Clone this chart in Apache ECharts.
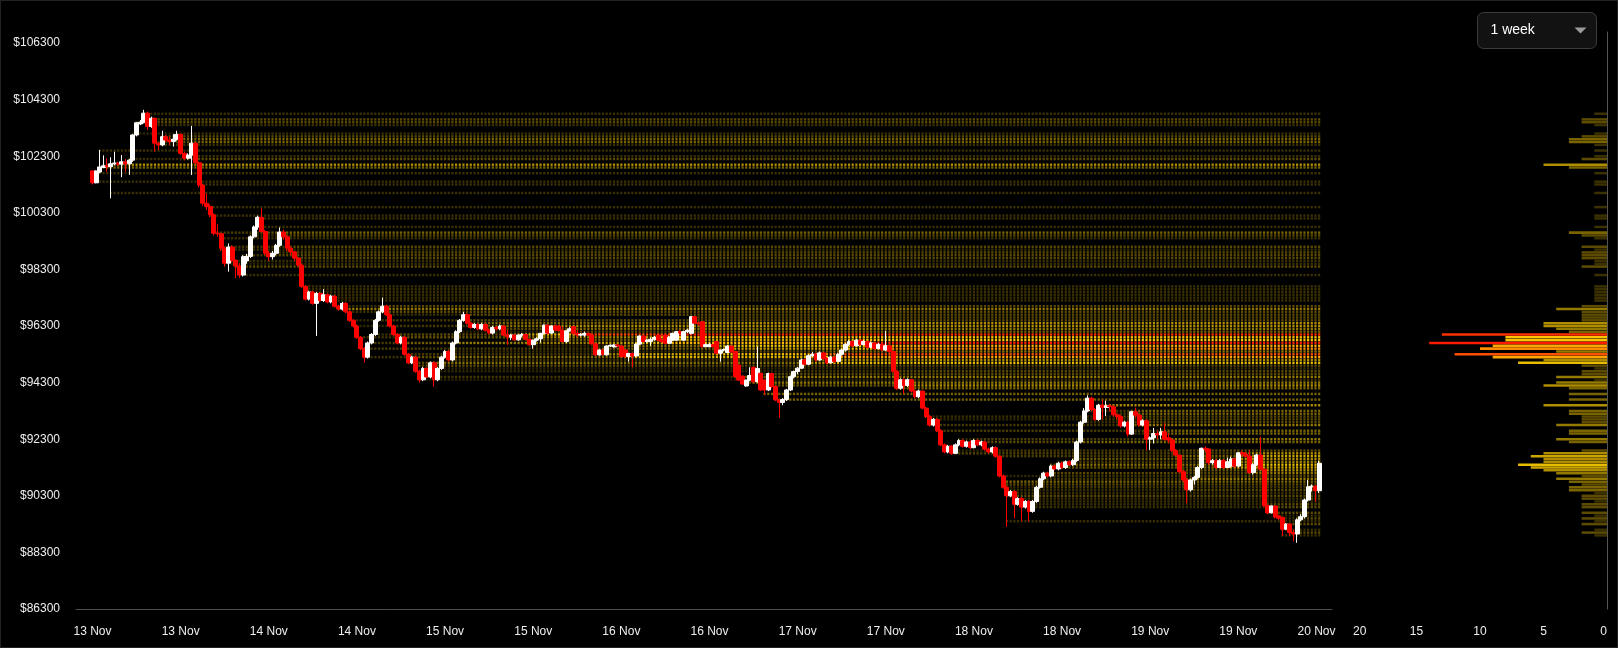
<!DOCTYPE html>
<html>
<head>
<meta charset="utf-8">
<title>BTC - 1 week</title>
<script src="https://cdn.jsdelivr.net/npm/echarts@6/dist/echarts.min.js"></script>
<style>
  html, body { margin: 0; padding: 0; background: #000; }
  #wrap { position: relative; width: 1618px; height: 648px; }
  #chart { width: 1618px; height: 648px; }
  #frame { position: absolute; left: 0; top: 0; width: 1618px; height: 648px; box-sizing: border-box; border: 1px solid #222; pointer-events: none; }
</style>
</head>
<body>
<div id="wrap"><div id="chart"></div><div id="frame"></div></div>
<script>
const FONT = '"Liberation Sans", Arial, sans-serif';
const MONTHS = ['Jan', 'Feb', 'Mar', 'Apr', 'May', 'Jun', 'Jul', 'Aug', 'Sep', 'Oct', 'Nov', 'Dec'];
const startTime = Date.UTC(2025, 10, 13, 0, 0);
const STEP = 30 * 60 * 1000;
const PAD_LEFT = 4;
const PAD_RIGHT = 3;
const LEVEL_STEP = 100;

// 30 min candles from 13 Nov 00:00 : [open, close, low, high]
const candles = [
  [101780,101360,101300,101800],[101360,101780,101340,101800],[101740,101920,101700,102520],[101900,101960,101880,102330],[101960,101930,101750,102220],[101930,102030,100810,102260],[102030,102060,101980,102460],[102060,102020,101950,102100],[102020,102100,101560,102340],[102100,102030,101750,102200],
  [102030,102160,101640,102200],[102160,103050,102100,103080],[103050,103480,103000,103500],[103440,103500,103400,103580],[103500,103820,103460,103940],[103820,103350,103230,103880],[103350,103640,103300,103700],[103640,102760,102460,103660],[102760,102700,102520,102800],[102700,102990,102650,103200],
  [102990,102870,102800,103050],[102870,102820,102700,102990],[102820,102900,102640,103080],[102900,103070,102850,103200],[103070,102400,102350,103100],[102400,102230,102150,102460],[102230,102340,102180,102400],[102340,102760,101640,103370],[102760,102070,102000,102800],[102070,101280,101200,102110],
  [101280,100640,100550,101320],[100640,100520,100400,100990],[100520,100230,100150,100600],[100230,99580,99500,100280],[99580,99560,99450,99900],[99560,99050,98950,99580],[99050,98520,98400,99100],[98520,99090,98220,99220],[99090,98620,98550,99150],[98620,98420,97990,98650],
  [98420,98100,98000,98520],[98100,98750,98050,98800],[98600,98760,98500,98850],[98760,99450,98700,99500],[99450,99800,99400,99850],[99800,100140,99700,100200],[100140,99640,99600,100460],[99640,98870,98800,99700],[98870,98750,98600,98950],[98750,98870,98650,98950],
  [98870,99150,98800,99200],[99150,99620,99100,99780],[99620,99450,99350,99700],[99450,99050,98950,99500],[99050,98920,98800,99100],[98920,98700,98600,98950],[98700,98450,98400,98750],[98450,97700,97650,98500],[97700,97250,97200,97750],[97250,97500,97200,97550],
  [97500,97100,97050,97550],[97100,97450,95950,97500],[97450,97200,97150,97500],[97200,97400,97150,97600],[97400,97150,97100,97450],[97150,97350,97100,97400],[97350,97000,96950,97400],[97000,96900,96850,97050],[96900,97100,96850,97150],[97100,96800,96750,97150],
  [96800,96500,96450,96850],[96500,96300,96250,96550],[96300,95900,95850,96350],[95900,95500,95450,95950],[95500,95200,95000,95550],[95200,95700,95150,95750],[95700,96000,95650,96050],[96000,96500,95950,96550],[96500,96800,96450,96850],[96800,97000,96750,97300],
  [97000,96700,96650,97050],[96700,96300,96250,96750],[96300,96000,95950,96350],[96000,95700,95650,96050],[95700,95900,95650,95950],[95900,95300,95250,95950],[95300,95000,94950,95350],[95000,95200,94950,95250],[95200,94700,94650,95250],[94700,94400,94300,94750],
  [94400,94800,94350,94850],[94800,94500,94450,94850],[94500,95000,94450,95050],[95000,94400,94150,95050],[94400,94800,94350,94850],[94800,95200,94750,95250],[95200,95400,95150,95450],[95400,95100,95050,95450],[95100,95700,95050,95750],[95700,96100,95650,96150],
  [96100,96500,96050,96550],[96500,96700,96450,96800],[96700,96400,96350,96750],[96400,96250,96200,96450],[96250,96350,96200,96400],[96350,96200,96150,96400],[96200,96350,96150,96400],[96350,96150,96100,96400],[96150,96050,96000,96200],[96050,96250,96000,96300],
  [96250,96200,96150,96300],[96200,96300,96150,96350],[96300,95980,95950,96320],[95980,95920,95630,96160],[95900,95980,95800,96010],[95980,95810,95790,96000],[95810,95980,95780,96000],[95980,96000,95900,96050],[96000,95830,95800,96020],[95830,95640,95610,95850],
  [95640,95800,95500,95820],[95800,95850,95750,95900],[95850,96040,95710,96060],[96040,96330,96000,96350],[96330,96050,96000,96360],[96050,96300,96030,96320],[96300,96160,96120,96340],[96300,96140,96100,96340],[96140,95750,95720,96280],[95750,96130,95700,96150],
  [96130,96200,96100,96260],[96280,96040,96000,96300],[96040,95980,95900,96160],[95980,96000,95930,96050],[95980,96040,95920,96100],[96040,95980,95950,96060],[95980,95670,95640,96000],[95670,95280,95240,95710],[95280,95450,95250,95480],[95450,95300,95260,95470],
  [95280,95590,95260,95620],[95590,95620,95560,95650],[95560,95630,95540,95660],[95630,95600,95550,95650],[95590,95220,95200,95620],[95450,95220,95180,95470],[95220,95330,95040,95350],[95330,95240,94840,95360],[95240,95660,95200,95700],[95660,95945,95630,95970],
  [95945,95750,95720,95960],[95750,95800,95700,95850],[95750,95830,95600,95900],[95830,95900,95780,95950],[95980,95800,95770,96000],[95800,95750,95700,95850],[95980,95690,95650,96000],[95690,95900,95680,95950],[95800,96040,95780,96060],[95800,96100,95780,96120],
  [96100,96050,96000,96150],[95800,96100,95780,96130],[96100,96150,96050,96200],[96040,96630,96000,96650],[96630,96400,96380,96660],[96400,96380,96300,96450],[96450,95570,95540,96470],[95570,95640,95550,95680],[95570,95640,95550,95700],[95640,95570,95550,95660],
  [95750,95340,95300,95770],[95340,95450,95040,95460],[95450,95470,95400,95500],[95360,95590,95340,95620],[95590,95380,95360,95600],[95400,94510,94480,95420],[94920,94390,94360,94940],[94530,94250,94220,94550],[94180,94390,94150,94400],[94390,94550,94350,94840],
  [94840,94330,94300,94860],[94330,94800,94300,95570],[94630,94040,94000,94650],[94390,94040,93860,94400],[94040,94620,94000,94650],[94620,94160,94100,94650],[94160,93690,93650,94200],[93690,93600,93050,93700],[93600,93700,93500,93750],[93700,94040,93650,94080],
  [94040,94510,94000,94550],[94510,94690,94450,94720],[94690,94810,94600,94850],[94810,95100,94780,95150],[95100,94950,94900,95150],[94950,95250,94920,95300],[95250,95300,95200,95380],[95300,95100,95050,95350],[95100,95350,95080,95400],[95350,95150,95100,95380],
  [95150,95000,94950,95200],[95000,95200,94980,95250],[95200,95050,95000,95230],[95050,95300,95030,95350],[95300,95450,95250,95500],[95450,95650,95400,95700],[95650,95750,95600,95800],[95750,95600,95550,95780],[95600,95800,95580,95850],[95800,95650,95600,95820],
  [95650,95750,95620,95800],[95750,95550,95500,95780],[95550,95700,95520,95750],[95700,95500,95450,95720],[95500,95650,95480,95700],[95650,95450,95420,95680],[95450,95600,95420,96130],[95600,95400,95350,95620],[95400,94700,94650,95420],[94700,94100,94050,94750],
  [94100,94400,94050,94450],[94400,94200,93900,94450],[94200,94400,94150,94450],[94400,94000,93950,94420],[94000,93800,93750,94050],[93800,94000,93750,94050],[94000,93400,93350,94020],[93400,93100,93050,93450],[93100,92800,92750,93150],[92800,93000,92750,93050],
  [93000,92600,92550,93050],[92600,92100,92050,92650],[92100,91850,91800,92150],[91850,92050,91800,92100],[92050,91800,91750,92100],[91800,92100,91780,92150],[92100,92250,92050,92300],[92250,92050,92000,92300],[92050,92200,92000,92250],[92200,92000,91950,92250],
  [92000,92250,91980,92300],[92250,92100,92050,92300],[92100,92200,92050,92250],[92200,91950,91900,92250],[91950,91850,91800,92000],[91850,92000,91800,92050],[92000,91700,91650,92050],[91700,91000,90950,91750],[91000,90600,90550,91050],[90600,90300,89200,90650],
  [90300,90450,90250,90500],[90450,90000,89500,90500],[90000,90200,89950,90250],[90200,89900,89400,90250],[89900,90100,89850,90150],[90100,89750,89400,90150],[89750,90100,89700,90150],[90100,90600,90050,90650],[90600,90900,90550,90950],[90900,91100,90850,91150],
  [91100,91000,90950,91150],[91000,91350,90950,91400],[91350,91250,91200,91400],[91250,91450,91200,91500],[91450,91300,91250,91500],[91300,91500,91250,91550],[91500,91400,91350,91550],[91400,91550,91350,91600],[91550,92200,91500,92250],[92200,92900,92150,92950],
  [92900,93300,92850,93400],[93300,93750,93250,93850],[93750,93350,93300,93800],[93350,93000,92950,93400],[93000,93500,92950,93550],[93500,93420,93000,93700],[93420,93480,93120,93660],[93480,93450,93300,93550],[93450,93160,93100,93500],[93160,93100,93000,93200],
  [93100,92770,92700,93150],[92770,92900,92720,92950],[92900,92480,92400,92950],[92480,93270,92450,93300],[93270,93150,93050,93420],[93150,92800,92750,93200],[92800,92950,92750,93000],[92950,92300,91920,93000],[92300,92350,91920,92400],[92350,92500,92150,92700],
  [92500,92450,92300,92600],[92450,92560,92300,92700],[92560,92300,92250,92870],[92350,92270,92150,92500],[92270,91900,91850,92330],[91900,91740,91700,91950],[91740,91150,91100,91750],[91150,90860,90800,91210],[90860,90510,90040,90920],[90510,90860,90450,90900],
  [90860,90950,90700,91000],[90950,91300,90900,91350],[91300,91980,91250,92000],[91980,91950,91850,92050],[91950,91470,91400,91980],[91470,91540,91400,91600],[91540,91300,91250,91600],[91300,91540,91280,91600],[91540,91300,91250,91600],[91300,91500,91280,91650],
  [91350,91600,91300,91680],[91600,91350,91300,91650],[91350,91820,91300,91850],[91820,91780,91700,91900],[91780,91700,91650,91850],[91700,91120,91080,91920],[91120,91400,91050,91450],[91400,91740,91350,91780],[91740,91240,91200,92390],[91240,89950,89900,91260],
  [89950,89700,89650,89980],[89700,89940,89680,89960],[89940,89550,89500,89960],[89590,89510,89450,89620],[89540,89120,88880,89560],[89120,89300,89100,89330],[89300,89000,88880,89320],[89000,88950,88700,89100],[88950,89450,88640,89500],[89450,89560,89400,89650],
  [89560,90150,89500,90200],[90150,90620,90100,90860],[90620,90640,90450,90700],[90640,90480,90090,90680],[90480,91450,90400,91540]
];

// price levels of the profile ($100 bins) and how many candles closed in each
const levelPrices = [
  103800,103600,103500,103400,103100,103000,102900,102800,102700,102500,
  102300,102200,102000,101900,101700,101400,101300,101000,100500,100200,
  100100,99800,99600,99500,99400,99100,99000,98900,98800,98700,
  98600,98500,98400,98100,97700,97600,97500,97400,97300,97200,
  97000,96900,96800,96700,96600,96500,96400,96300,96200,96100,
  96000,95900,95800,95700,95600,95500,95400,95300,95200,95100,
  95000,94900,94800,94700,94600,94500,94400,94300,94200,94100,
  93900,93700,93500,93300,93200,93100,93000,92900,92800,92600,
  92500,92300,92200,91900,91800,91700,91600,91500,91400,91300,
  91200,91100,91000,90900,90800,90700,90600,90500,90400,90300,
  90200,90100,90000,89900,89700,89600,89500,89400,89300,89100,
  89000,88900
];
const levelCounts = [
  1,2,2,1,1,2,3,3,1,1,
  1,2,5,3,1,1,1,1,1,1,
  1,1,3,2,1,2,1,2,2,2,
  1,1,2,1,1,1,1,1,1,1,
  2,4,2,2,2,2,5,5,4,3,
  13,8,8,14,9,10,4,12,9,5,
  7,2,1,2,2,4,1,4,5,3,
  3,3,5,3,3,2,2,2,4,3,
  3,4,3,2,5,6,5,5,7,6,
  5,4,2,4,3,2,3,3,1,2,
  2,1,2,2,2,1,2,1,2,1,
  2,1
];

const priceMin = 86300;
const priceMax = 106300;
const priceInterval = 2000;
const countMax = 20;
const countInterval = 5;
// one colour per count, 0 .. 14
const heatColors = [
  '#1c1700', '#3a3000', '#5c4b00', '#7a6400', '#957a00', '#b08e00', '#cca500', '#e8bc00',
  '#ffc400', '#ffa500', '#ff8c00', '#ff6e00', '#ff5000', '#ff3000', '#ff1a00'
];

// x categories, half hour slots with a little padding each side
const categories = [];
for (let k = 0; k < PAD_LEFT + candles.length + PAD_RIGHT; k++) {
  const d = new Date(startTime + (k - PAD_LEFT) * STEP);
  const hh = String(d.getUTCHours()).padStart(2, '0');
  const mm = String(d.getUTCMinutes()).padStart(2, '0');
  categories.push(d.getUTCDate() + ' ' + MONTHS[d.getUTCMonth()] + ' ' + hh + ':' + mm);
}
const showTick = (index) => index >= PAD_LEFT && (index - PAD_LEFT) % 24 === 0;
const lastTick = categories.length - PAD_RIGHT + 1;

const candleData = candles.map((c, i) => [i + PAD_LEFT, c[0], c[1], c[2], c[3]]);

// heat rows: a level lights up from its first close and fills up to its final count
const heatData = [];
levelPrices.forEach((price, li) => {
  const count = levelCounts[li];
  const hits = [];
  candles.forEach((c, i) => {
    if (Math.round(c[1] / LEVEL_STEP) * LEVEL_STEP === price) hits.push(i);
  });
  let start = hits.length ? hits[0] : candles.findIndex(c => c[2] <= price && c[3] >= price);
  if (start < 0) return;
  let seen = 0;
  for (let i = start; i < candles.length; i++) {
    while (seen < hits.length && hits[seen] <= i) seen++;
    const v = hits.length ? count * seen / hits.length : count;
    heatData.push([i + PAD_LEFT, price, v]);
  }
});

const profileData = levelPrices.map((p, i) => [levelCounts[i], p]);

// profile axis uses the same px per dollar as the price axis, but starts higher
const mainTop = 43, profileTop = 32, bottom = 39, chartH = 648;
const pxPerDollar = (chartH - bottom - mainTop) / (priceMax - priceMin);
const profileMax = priceMin + (chartH - bottom - profileTop) / pxPerDollar;

const labelStyle = { color: '#eeeeee', fontSize: 12, fontFamily: FONT };

const chart = echarts.init(document.getElementById('chart'));

const option = {
  backgroundColor: '#000',
  animation: false,
  textStyle: { fontFamily: FONT },
  grid: [
    { left: 76, right: 286, top: mainTop, bottom: bottom, outerBoundsMode: 'none' },
    { left: 1353, right: 11, top: profileTop, bottom: bottom, outerBoundsMode: 'none' }
  ],
  xAxis: [
    {
      type: 'category',
      gridIndex: 0,
      data: categories,
      axisLine: { lineStyle: { color: '#4d4d4d' } },
      axisTick: { interval: showTick, alignWithLabel: true, length: 8, lineStyle: { color: '#4d4d4d' } },
      axisLabel: Object.assign({
        interval: showTick,
        margin: 17,
        formatter: (v, idx) => {
          const day = v.split(' ').slice(0, 2).join(' ');
          // last label sits a bit left of its tick, inside the axis end
          return idx === lastTick ? '{last|' + day + '}' : day;
        },
        rich: { last: Object.assign({ padding: [0, 20, 0, 0] }, labelStyle) }
      }, labelStyle),
      splitLine: { show: false }
    },
    {
      type: 'value',
      gridIndex: 1,
      inverse: true,
      min: 0,
      max: countMax,
      interval: countInterval,
      axisLine: { show: false },
      axisTick: { show: false },
      splitLine: { show: false },
      axisLabel: Object.assign({ margin: 17, alignMinLabel: 'right', alignMaxLabel: 'left' }, labelStyle)
    }
  ],
  yAxis: [
    {
      type: 'value',
      gridIndex: 0,
      min: priceMin,
      max: priceMax,
      interval: priceInterval,
      axisLine: { show: false },
      axisTick: { show: false },
      splitLine: { show: false },
      axisLabel: Object.assign({ margin: 16, formatter: v => '$' + v }, labelStyle)
    },
    {
      type: 'value',
      gridIndex: 1,
      position: 'right',
      min: priceMin,
      max: profileMax,
      axisLine: { show: true, onZero: false, lineStyle: { color: '#555' } },
      axisTick: { show: false },
      axisLabel: { show: false },
      splitLine: { show: false }
    }
  ],
  visualMap: [
    { type: 'continuous', show: false, seriesIndex: 0, dimension: 2, min: 0, max: 14, inRange: { color: heatColors } },
    { type: 'continuous', show: false, seriesIndex: 2, dimension: 0, min: 0, max: 14, inRange: { color: heatColors } }
  ],
  series: [
    {
      name: 'heat',
      type: 'custom',
      xAxisIndex: 0,
      yAxisIndex: 0,
      z: 1,
      silent: true,
      encode: { x: 0, y: 1 },
      data: heatData,
      renderItem: (params, api) => {
        const c = api.coord([api.value(0), api.value(1)]);
        const s = api.size([1, LEVEL_STEP]);
        const w = s[0] * 0.6;
        const h = s[1] * 0.85;
        return {
          type: 'rect',
          shape: { x: c[0] - w / 2, y: c[1] - h / 2, width: w, height: h },
          style: { fill: api.visual('color') }
        };
      }
    },
    {
      name: 'BTC',
      type: 'candlestick',
      xAxisIndex: 0,
      yAxisIndex: 0,
      z: 3,
      barWidth: 4.5,
      encode: { x: 0, y: [1, 2, 3, 4] },
      data: candleData,
      itemStyle: {
        color: '#ffffff',
        color0: '#ff0000',
        borderColor: '#ffffff',
        borderColor0: '#ff0000',
        borderWidth: 1
      }
    },
    {
      name: 'profile',
      type: 'custom',
      xAxisIndex: 1,
      yAxisIndex: 1,
      silent: true,
      encode: { x: 0, y: 1 },
      data: profileData,
      renderItem: (params, api) => {
        const p0 = api.coord([0, api.value(1)]);
        const p1 = api.coord([api.value(0), api.value(1)]);
        const h = api.size([0, LEVEL_STEP])[1] * 0.9;
        return {
          type: 'rect',
          shape: { x: Math.min(p0[0], p1[0]), y: p0[1] - h / 2, width: Math.abs(p0[0] - p1[0]), height: h },
          style: { fill: api.visual('color') }
        };
      }
    }
  ],
  graphic: [
    {
      type: 'group',
      right: 21,
      top: 12,
      children: [
        { type: 'rect', shape: { x: 0, y: 0, width: 119, height: 36, r: 6 }, style: { fill: '#121212', stroke: '#3c3c3c', lineWidth: 1 } },
        { type: 'text', x: 13, y: 18, style: { text: '1 week', fill: '#ffffff', font: '14px ' + FONT, verticalAlign: 'middle' } },
        { type: 'polygon', shape: { points: [[97, 15], [109, 15], [103, 21]] }, style: { fill: '#9a9a9a' } }
      ]
    }
  ]
};

chart.setOption(option);
window.addEventListener('resize', () => chart.resize());
</script>
</body>
</html>
